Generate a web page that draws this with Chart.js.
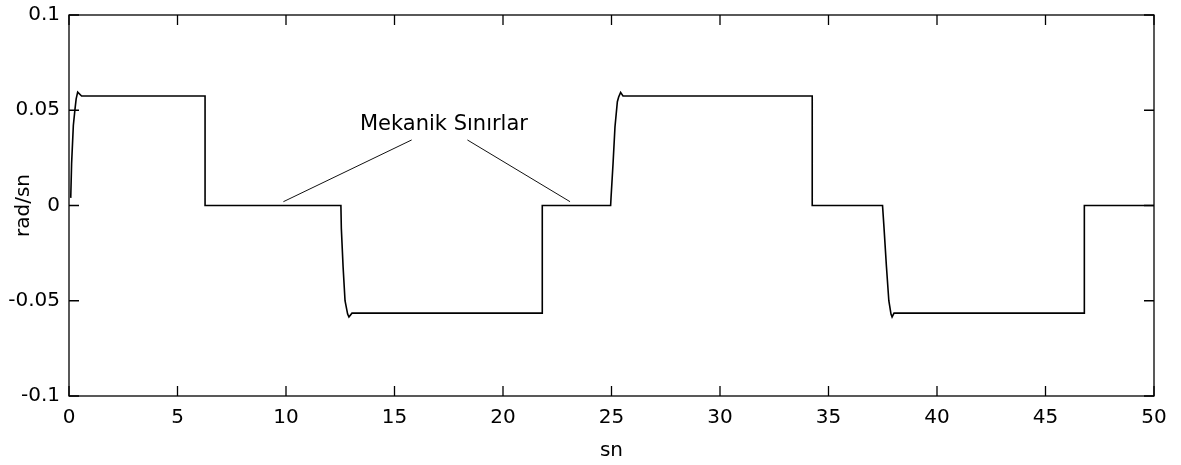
<!DOCTYPE html>
<html>
<head>
<meta charset="utf-8">
<script src="https://cdn.jsdelivr.net/npm/chart.js@4.4.1/dist/chart.umd.min.js"></script>
<style>
  html, body { margin:0; padding:0; background:#fff; }
  #wrap { width:1181px; height:465px; }
</style>
</head>
<body>
<div id="wrap"><canvas id="line-chart" width="1181" height="465"></canvas></div>
<script>
// zaman (sn) ve acisal hiz (rad/sn)
let timeS = [0.08, 0.12, 0.2, 0.28, 0.33, 0.4, 0.58, 6.27, 6.27,
  12.53, 12.55, 12.63, 12.72, 12.84, 12.9, 13.04, 21.81, 21.81,
  24.96, 24.98, 25.07, 25.16, 25.27, 25.33, 25.42, 25.53, 34.25, 34.25,
  37.49, 37.56, 37.67, 37.78, 37.88, 37.93, 38.02, 46.79, 46.79, 50];
let rateRadS = [0.004, 0.022, 0.042, 0.051, 0.056, 0.0595, 0.0575, 0.0575, 0,
  0, -0.012, -0.032, -0.05, -0.057, -0.0585, -0.0565, -0.0565, 0,
  0, 0.0045, 0.0218, 0.0412, 0.0545, 0.057, 0.0594, 0.0575, 0.0575, 0,
  0, -0.012, -0.032, -0.05, -0.057, -0.0585, -0.0565, -0.0565, 0, 0];

let xTicks = [0, 5, 10, 15, 20, 25, 30, 35, 40, 45, 50];
let yTicks = [-0.1, -0.05, 0, 0.05, 0.1];

// "Mekanik Sinirlar" ok cizgileri
let noteText = 'Mekanik Sınırlar';
let notePos = [17.28, 0.0425];
let leftArrowX = [9.88, 15.79];
let leftArrowY = [0.002, 0.0344];
let rightArrowX = [18.36, 23.09];
let rightArrowY = [0.0344, 0.002];

function toPoints(xs, ys) {
  let pts = [];
  for (let i = 0; i < xs.length; i++) pts.push({x: xs[i], y: ys[i]});
  return pts;
}

let fontName = '"DejaVu Sans", sans-serif';

// matlab tarzi cerceve ve iceri bakan tick'ler
let framePlugin = {
  id: 'frame',
  beforeDatasetsDraw(chart) {
    let ctx = chart.ctx;
    let a = chart.chartArea;
    let xs = chart.scales.x, ys = chart.scales.y;
    let len = 10;
    ctx.save();
    ctx.strokeStyle = '#000';
    ctx.lineWidth = 1.3;
    ctx.strokeRect(a.left, a.top, a.right - a.left, a.bottom - a.top);
    ctx.beginPath();
    xTicks.forEach(function(t) {
      let px = xs.getPixelForValue(t);
      ctx.moveTo(px, a.bottom); ctx.lineTo(px, a.bottom - len);
      ctx.moveTo(px, a.top); ctx.lineTo(px, a.top + len);
    });
    yTicks.forEach(function(t) {
      let py = ys.getPixelForValue(t);
      ctx.moveTo(a.left, py); ctx.lineTo(a.left + len, py);
      ctx.moveTo(a.right, py); ctx.lineTo(a.right - len, py);
    });
    ctx.stroke();
    ctx.restore();
  },
  afterDatasetsDraw(chart) {
    let ctx = chart.ctx;
    ctx.save();
    ctx.fillStyle = '#000';
    ctx.font = '21px ' + fontName;
    ctx.textAlign = 'center';
    ctx.textBaseline = 'middle';
    ctx.fillText(noteText, chart.scales.x.getPixelForValue(notePos[0]), chart.scales.y.getPixelForValue(notePos[1]));
    ctx.restore();
  }
};

let myLineChart = new Chart(document.getElementById('line-chart').getContext('2d'), {
  type: 'line',
  data: {
    datasets: [
      {
        label: 'rad/sn',
        data: toPoints(timeS, rateRadS),
        borderColor: '#000',
        borderWidth: 1.6,
        pointRadius: 0,
        tension: 0
      },
      {
        label: 'ok1',
        data: toPoints(leftArrowX, leftArrowY),
        borderColor: '#111',
        borderWidth: 1,
        pointRadius: 0
      },
      {
        label: 'ok2',
        data: toPoints(rightArrowX, rightArrowY),
        borderColor: '#111',
        borderWidth: 1,
        pointRadius: 0
      }
    ]
  },
  options: {
    responsive: false,
    animation: false,
    maintainAspectRatio: false,
    layout: { padding: { left: 0, top: 15, right: 27, bottom: 0 } },
    plugins: { legend: { display: false }, tooltip: { enabled: false } },
    scales: {
      x: {
        type: 'linear',
        min: 0, max: 50,
        grid: { display: false },
        border: { display: false },
        ticks: { stepSize: 5, color: '#000', padding: 2, maxRotation: 0, font: { family: fontName, size: 20 } },
        title: { display: true, text: 'sn', color: '#000', padding: { top: 0, bottom: 2 }, font: { family: fontName, size: 20 } },
        afterFit: function(scale) { scale.height = 69; }
      },
      y: {
        min: -0.1, max: 0.1,
        grid: { display: false },
        border: { display: false },
        ticks: {
          stepSize: 0.05, color: '#000', padding: 1,
          font: { family: fontName, size: 20 },
          callback: function(v) { return String(+v.toFixed(2)); }
        },
        title: { display: true, text: 'rad/sn', color: '#000', padding: { top: 12, bottom: 0 }, font: { family: fontName, size: 20 } },
        afterFit: function(scale) {
          scale.width = 69;
          scale.paddingTop = 0;
          scale.paddingBottom = 0;
        }
      }
    }
  },
  plugins: [framePlugin]
});
</script>
</body>
</html>
